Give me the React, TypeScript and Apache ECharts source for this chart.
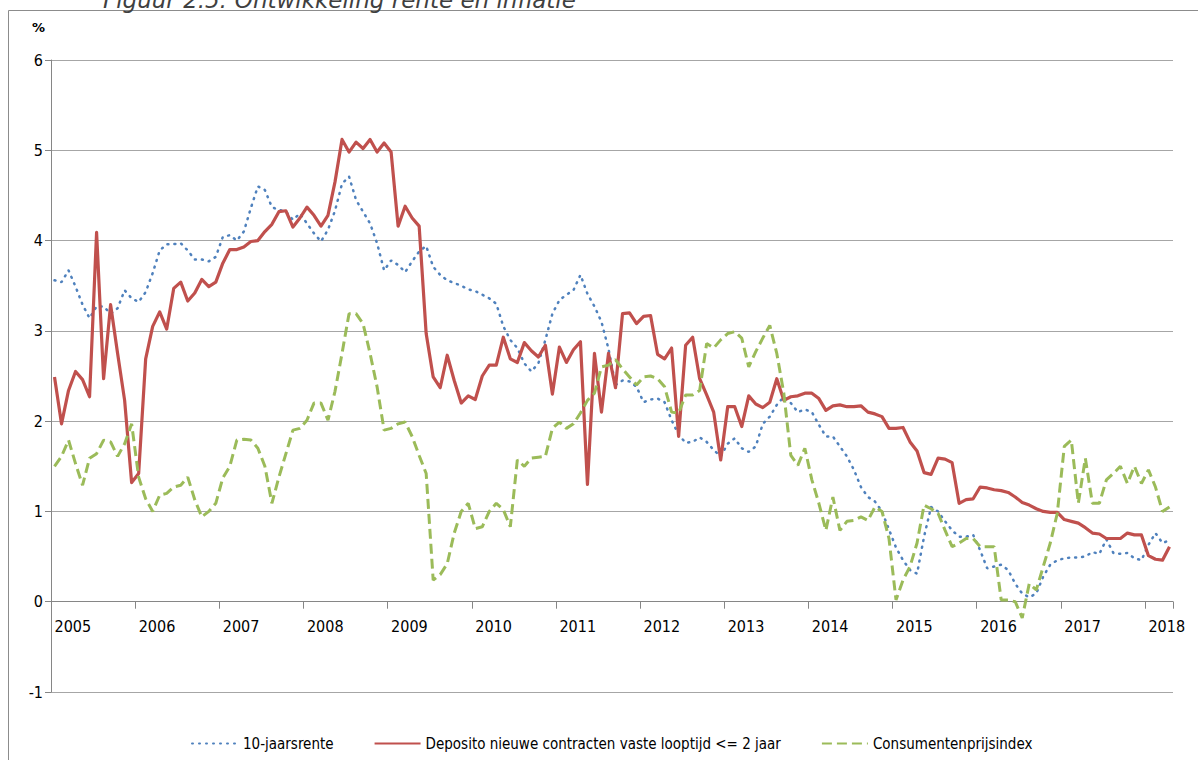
import React, { useEffect, useRef } from "react";
import * as echarts from "echarts";

const years = ["2005", "2006", "2007", "2008", "2009", "2010", "2011", "2012", "2013", "2014", "2015", "2016", "2017", "2018"];
const monthsInLastYear = 4;
const categories: string[] = [];
years.forEach((y, k) => {
  const n = k === years.length - 1 ? monthsInLastYear : 12;
  for (let m = 1; m <= n; m++) categories.push(`${y}-${m < 10 ? "0" + m : m}`);
});

const yTicks = { min: -1, max: 6, step: 1 };

const tenYear = [
  3.56, 3.54, 3.67, 3.49, 3.29, 3.14, 3.27, 3.27, 3.19, 3.25, 3.45, 3.36,
  3.32, 3.43, 3.64, 3.89, 3.96, 3.96, 3.97, 3.89, 3.79, 3.79, 3.77, 3.82,
  4.04, 4.06, 4.00, 4.10, 4.36, 4.60, 4.56, 4.37, 4.34, 4.32, 4.23, 4.30,
  4.19, 4.08, 3.99, 4.12, 4.33, 4.63, 4.71, 4.45, 4.32, 4.19, 3.97, 3.67,
  3.78, 3.73, 3.65, 3.77, 3.88, 3.94, 3.71, 3.62, 3.56, 3.53, 3.50, 3.46,
  3.44, 3.40, 3.36, 3.30, 3.05, 2.90, 2.81, 2.64, 2.55, 2.64, 2.90, 3.19,
  3.34, 3.40, 3.45, 3.62, 3.41, 3.27, 3.10, 2.80, 2.40, 2.45, 2.44, 2.38,
  2.21, 2.24, 2.25, 2.21, 2.01, 1.85, 1.76, 1.77, 1.82, 1.77, 1.68, 1.61,
  1.75, 1.81, 1.70, 1.66, 1.72, 1.97, 2.05, 2.18, 2.27, 2.20, 2.10, 2.13,
  2.10, 1.96, 1.83, 1.83, 1.72, 1.61, 1.46, 1.27, 1.16, 1.11, 1.00, 0.80,
  0.60, 0.46, 0.35, 0.31, 0.72, 1.05, 1.00, 0.89, 0.79, 0.72, 0.72, 0.74,
  0.57, 0.37, 0.39, 0.41, 0.35, 0.20, 0.09, 0.05, 0.09, 0.28, 0.41, 0.46,
  0.48, 0.49, 0.49, 0.50, 0.55, 0.53, 0.69, 0.54, 0.53, 0.54, 0.48, 0.46,
  0.63, 0.76, 0.65, 0.68,
];

const deposit = [
  2.49, 1.97, 2.34, 2.55, 2.46, 2.27, 4.09, 2.47, 3.29, 2.75, 2.23, 1.32,
  1.42, 2.69, 3.05, 3.21, 3.02, 3.47, 3.54, 3.33, 3.42, 3.57, 3.49, 3.54,
  3.75, 3.90, 3.90, 3.93, 3.99, 4.00, 4.10, 4.18, 4.32, 4.33, 4.15, 4.25,
  4.37, 4.28, 4.16, 4.28, 4.65, 5.12, 4.98, 5.09, 5.02, 5.12, 4.98, 5.08,
  4.98, 4.16, 4.38, 4.25, 4.16, 2.97, 2.49, 2.37, 2.73, 2.45, 2.20, 2.28,
  2.24, 2.50, 2.62, 2.62, 2.93, 2.69, 2.65, 2.87, 2.78, 2.71, 2.84, 2.30,
  2.82, 2.65, 2.79, 2.88, 1.30, 2.75, 2.10, 2.75, 2.37, 3.19, 3.20, 3.08,
  3.16, 3.17, 2.74, 2.69, 2.81, 1.83, 2.84, 2.93, 2.47, 2.29, 2.10, 1.57,
  2.16, 2.16, 1.94, 2.28, 2.19, 2.15, 2.21, 2.47, 2.23, 2.27, 2.28, 2.31,
  2.31, 2.25, 2.12, 2.17, 2.18, 2.16, 2.16, 2.17, 2.10, 2.08, 2.05, 1.92,
  1.92, 1.93, 1.77, 1.67, 1.43, 1.41, 1.59, 1.58, 1.54, 1.09, 1.13, 1.14,
  1.27, 1.26, 1.24, 1.23, 1.21, 1.16, 1.10, 1.07, 1.03, 1.00, 0.99, 0.99,
  0.91, 0.89, 0.87, 0.82, 0.76, 0.75, 0.70, 0.70, 0.70, 0.76, 0.74, 0.74,
  0.51, 0.47, 0.46, 0.61,
];

const cpi = [
  1.50, 1.61, 1.79, 1.53, 1.29, 1.59, 1.64, 1.79, 1.77, 1.61, 1.75, 1.97,
  1.38, 1.14, 1.00, 1.18, 1.20, 1.27, 1.29, 1.38, 1.13, 0.94, 1.00, 1.09,
  1.37, 1.50, 1.79, 1.80, 1.79, 1.70, 1.50, 1.09, 1.38, 1.64, 1.90, 1.92,
  2.01, 2.20, 2.20, 2.01, 2.33, 2.75, 3.19, 3.19, 3.08, 2.75, 2.38, 1.90,
  1.92, 1.97, 1.99, 1.83, 1.62, 1.42, 0.24, 0.30, 0.42, 0.76, 1.00, 1.09,
  0.81, 0.83, 1.00, 1.09, 1.02, 0.83, 1.57, 1.50, 1.59, 1.60, 1.61, 1.92,
  1.99, 1.92, 1.97, 2.09, 2.23, 2.31, 2.60, 2.62, 2.68, 2.58, 2.49, 2.40,
  2.49, 2.50, 2.47, 2.38, 2.10, 2.09, 2.29, 2.29, 2.34, 2.86, 2.81, 2.90,
  2.97, 2.99, 2.92, 2.60, 2.77, 2.92, 3.06, 2.75, 2.31, 1.62, 1.51, 1.70,
  1.35, 1.09, 0.79, 1.16, 0.79, 0.89, 0.90, 0.94, 0.90, 1.05, 1.00, 0.70,
  0.02, 0.24, 0.39, 0.65, 1.07, 1.03, 0.98, 0.79, 0.61, 0.65, 0.70, 0.70,
  0.61, 0.61, 0.61, 0.02, 0.02, 0.00, -0.18, 0.20, 0.13, 0.39, 0.65, 0.98,
  1.72, 1.79, 1.09, 1.59, 1.09, 1.09, 1.35, 1.42, 1.50, 1.31, 1.50, 1.31,
  1.46, 1.27, 1.00, 1.05,
];

const seriesNames = ["10-jaarsrente", "Deposito nieuwe contracten vaste looptijd <= 2 jaar", "Consumentenprijsindex"];
const titleText = "Figuur 2.5: Ontwikkeling rente en inflatie";
const unitText = "%";

const FONT = "'Liberation Sans Narrow', 'DejaVu Sans Condensed', 'Open Sans', sans-serif";

const GRID = { left: 51, right: 25, top: 60, bottom: 68 };
const CHART_H = 760;

export default function App() {
  const ref = useRef<HTMLDivElement>(null);
  useEffect(() => {
    if (!ref.current) return;
    const chart = echarts.init(ref.current, undefined, { renderer: "svg" });
    const isYearStart = (i: number) => i % 12 === 0;
    const plotH = CHART_H - GRID.top - GRID.bottom;
    // place the category axis on the value 0 of the y axis
    const zeroOffset = -((0 - yTicks.min) / (yTicks.max - yTicks.min)) * plotH;
    chart.setOption({
      animation: false,
      backgroundColor: "#ffffff",
      textStyle: { fontFamily: FONT },
      grid: { ...GRID, containLabel: false },
      xAxis: {
        type: "category",
        data: categories,
        boundaryGap: true,
        offset: zeroOffset,
        axisLine: { onZero: false, lineStyle: { color: "#868686", width: 1 } },
        axisTick: { show: true, interval: (i: number) => isYearStart(i), length: 7, lineStyle: { color: "#868686" } },
        axisLabel: {
          interval: (i: number) => isYearStart(i),
          formatter: (v: string) => v.slice(0, 4),
          align: "left",
          margin: 17,
          fontSize: 16,
          color: "#000",
          fontFamily: FONT,
        },
        splitLine: { show: false },
      },
      yAxis: {
        type: "value",
        min: yTicks.min,
        max: yTicks.max,
        interval: yTicks.step,
        axisLine: { show: true, lineStyle: { color: "#868686", width: 1 } },
        axisTick: { show: true, length: 6, lineStyle: { color: "#868686" } },
        axisLabel: { fontSize: 16, color: "#000", margin: 8, fontFamily: FONT },
        splitLine: { show: true, lineStyle: { color: "#A6A6A6", width: 1 } },
      },
      legend: {
        data: seriesNames,
        left: 186,
        top: 731,
        itemWidth: 46,
        itemHeight: 14,
        itemGap: 40,
        itemStyle: { opacity: 0 },
        textStyle: { fontSize: 15, color: "#000", fontFamily: FONT },
      },
      series: [
        {
          name: seriesNames[0],
          type: "line",
          data: tenYear,
          symbol: "none",
          itemStyle: { color: "#4F81BD" },
          lineStyle: { color: "#4F81BD", width: 2.5, type: [1, 6], cap: "round" },
        },
        {
          name: seriesNames[1],
          type: "line",
          data: deposit,
          symbol: "none",
          itemStyle: { color: "#C0504D" },
          lineStyle: { color: "#C0504D", width: 3.2, type: "solid", join: "round" },
        },
        {
          name: seriesNames[2],
          type: "line",
          data: cpi,
          symbol: "none",
          itemStyle: { color: "#9BBB59" },
          lineStyle: { color: "#9BBB59", width: 3, type: [10, 5] },
        },
      ],
      graphic: [
        {
          type: "rect",
          shape: { x: 8.5, y: 10.5, width: 1200, height: 800 },
          style: { fill: "none", stroke: "#8c8c8c", lineWidth: 1 },
          silent: true,
          z: -1,
        },
        {
          type: "text",
          x: 103,
          y: 11,
          style: {
            text: titleText,
            font: "italic 23px 'DejaVu Sans', sans-serif",
            fill: "#404040",
            verticalAlign: "bottom",
          },
        },
        {
          type: "text",
          x: 32,
          y: 27,
          style: {
            text: unitText,
            font: "bold 13px 'DejaVu Sans', sans-serif",
            fill: "#000",
            verticalAlign: "middle",
          },
        },
      ],
    });
    return () => chart.dispose();
  }, []);
  return <div ref={ref} style={{ position: "absolute", left: 0, top: 0, width: 1198, height: CHART_H }} />;
}
